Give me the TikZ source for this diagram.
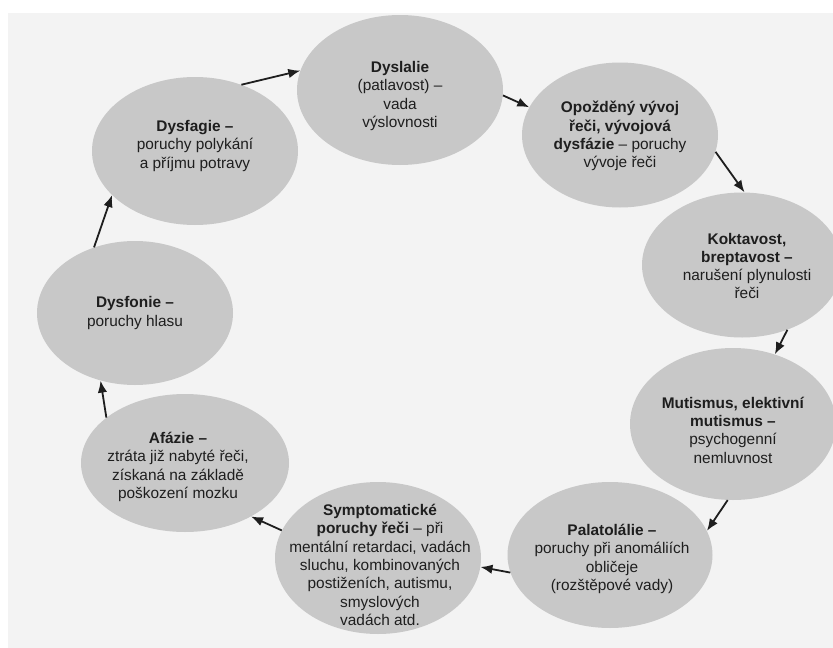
\documentclass[tikz,border=0pt]{standalone}
\usepackage{fontspec}
\setmainfont{Liberation Sans}
\usetikzlibrary{arrows.meta,shapes.geometric}
\definecolor{ellfill}{RGB}{200,200,200}
\definecolor{bgfill}{RGB}{243,243,243}
\definecolor{ink}{RGB}{30,30,30}
\begin{document}
\begin{tikzpicture}[x=1pt,y=-1pt,
  oval/.style={ellipse,fill=ellfill,inner sep=0pt},
  txt/.style={align=center,text=ink,font=\fontsize{15.4}{18.3}\selectfont,inner sep=0pt},
  conn/.style={draw=ink,line width=1.8pt,-{Latex[length=12pt,width=9.5pt]}}]
\useasboundingbox (0,0) rectangle (833,648);
\fill[white] (0,0) rectangle (833,648);
\fill[bgfill] (8,13) rectangle (833,648);
% ellipses
\node[oval,minimum width=206pt,minimum height=150pt] (A) at (400,90) {};
\node[oval,minimum width=196pt,minimum height=145pt] (B) at (620,135) {};
\node[oval,minimum width=200pt,minimum height=145pt] (C) at (742,265) {};
\node[oval,minimum width=206pt,minimum height=152pt] (D) at (733,424) {};
\node[oval,minimum width=205pt,minimum height=146pt] (E) at (610,555) {};
\node[oval,minimum width=206pt,minimum height=152pt] (F) at (378,558) {};
\node[oval,minimum width=208pt,minimum height=138pt] (G) at (185,463) {};
\node[oval,minimum width=196pt,minimum height=144pt] (H) at (135,313) {};
\node[oval,minimum width=206pt,minimum height=148pt] (I) at (195,151) {};
% texts
\node[txt] (tA) at (400,96) {\textbf{Dyslalie}\\(patlavost) –\\vada\\výslovnosti};
\node[txt] (tB) at (620,136) {\textbf{Opožděný vývoj}\\\textbf{řeči, vývojová}\\\textbf{dysfázie} – poruchy\\vývoje řeči};
\node[txt] (tC) at (747,266) {\textbf{Koktavost,}\\\textbf{breptavost –}\\narušení plynulosti\\řeči};
\node[txt] (tD) at (733,430) {\textbf{Mutismus, elektivní}\\\textbf{mutismus –}\\psychogenní\\nemluvnost};
\node[txt] (tE) at (612,559) {\textbf{Palatolálie –}\\poruchy při anomáliích\\obličeje\\(rozštěpové vady)};
\node[txt] (tF) at (380,565) {\textbf{Symptomatické}\\\textbf{poruchy řeči} – při\\mentální retardaci, vadách\\sluchu, kombinovaných\\postiženích, autismu,\\smyslových\\vadách atd.};
\node[txt] (tG) at (178,467) {\textbf{Afázie –}\\ztráta již nabyté řeči,\\získaná na základě\\poškození mozku};
\node[txt] (tH) at (135,313) {\textbf{Dysfonie –}\\poruchy hlasu};
\node[txt] (tI) at (195,146) {\textbf{Dysfagie –}\\poruchy polykání\\a příjmu potravy};
% connectors
\draw[conn] (I.55) -- (A.169);
\draw[conn] (A.-3) -- (B.163);
\draw[conn] (B.-10) -- (C.88);
\draw[conn] (C.-55) -- (D.59);
\draw[conn] (D.-94) -- (E.14);
\draw[conn] (E.190) -- (F.-5);
\draw[conn] (F.164) -- (G.-39);
\draw[conn] (G.150) -- (H.243);
\draw[conn] (H.122) -- (I.208);
\end{tikzpicture}
\end{document}
